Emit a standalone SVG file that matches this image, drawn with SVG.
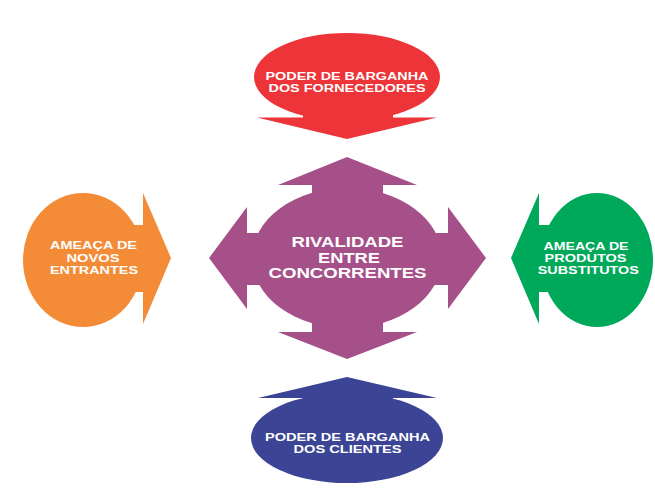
<svg xmlns="http://www.w3.org/2000/svg" width="655" height="489" viewBox="0 0 655 489">
<style>
text{font-family:"Liberation Sans",Arial,sans-serif;font-weight:bold;fill:#fff;text-anchor:middle}
.red{fill:#EC3439}
.pur{fill:#A65089}
.org{fill:#F48B37}
.grn{fill:#00A859}
.blu{fill:#3C4496}
</style>
<rect width="655" height="489" fill="#fff"/>
<g id="connectors"/>
<g id="fornecedores" class="red">
<ellipse cx="347" cy="77" rx="93" ry="44"/>
<rect x="303" y="100" width="90" height="19"/>
<polygon points="257,117.5 437,117.5 347,139"/>
<text font-size="11.4" x="347" y="80" textLength="163" lengthAdjust="spacingAndGlyphs">PODER DE BARGANHA</text>
<text font-size="11.4" x="347" y="92.3" textLength="157" lengthAdjust="spacingAndGlyphs">DOS FORNECEDORES</text>
</g>
<g id="rivalidade" class="pur">
<ellipse cx="347" cy="258" rx="95" ry="70"/>
<rect x="312" y="184" width="71" height="20"/>
<polygon points="278,185 347,157 417,185"/>
<rect x="312" y="312" width="71" height="21"/>
<polygon points="278,332 347,359 417,332"/>
<rect x="246" y="233" width="20" height="52"/>
<polygon points="247,207 209,258 247,309"/>
<rect x="429" y="233" width="20" height="52"/>
<polygon points="448,207 486,258 448,309"/>
<text font-size="14" x="347.5" y="247" textLength="112" lengthAdjust="spacingAndGlyphs">RIVALIDADE</text>
<text font-size="14" x="349" y="263" textLength="62" lengthAdjust="spacingAndGlyphs">ENTRE</text>
<text font-size="14" x="347.5" y="278" textLength="158" lengthAdjust="spacingAndGlyphs">CONCORRENTES</text>
</g>
<g id="novos-entrantes" class="org">
<ellipse cx="83" cy="260" rx="60" ry="67"/>
<rect x="125" y="225" width="19" height="67"/>
<polygon points="143,193 171,258 143,324"/>
<text font-size="11.5" x="93.5" y="249" textLength="87" lengthAdjust="spacingAndGlyphs">AMEAÇA DE</text>
<text font-size="11.5" x="93" y="262" textLength="53" lengthAdjust="spacingAndGlyphs">NOVOS</text>
<text font-size="11.5" x="94" y="274" textLength="88" lengthAdjust="spacingAndGlyphs">ENTRANTES</text>
</g>
<g id="substitutos" class="grn">
<ellipse cx="597" cy="260" rx="56" ry="67"/>
<rect x="538" y="225" width="20" height="67"/>
<polygon points="539,193 511,258 539,324"/>
<text font-size="11.5" x="586" y="250" textLength="85" lengthAdjust="spacingAndGlyphs">AMEAÇA DE</text>
<text font-size="11.5" x="585.5" y="262" textLength="82" lengthAdjust="spacingAndGlyphs">PRODUTOS</text>
<text font-size="11.5" x="588.3" y="274" textLength="101" lengthAdjust="spacingAndGlyphs">SUBSTITUTOS</text>
</g>
<g id="clientes" class="blu">
<ellipse cx="347" cy="438" rx="96" ry="45"/>
<rect x="303" y="397" width="90" height="12"/>
<polygon points="258,398 347,377 437,398"/>
<text font-size="11.5" x="347.5" y="441" textLength="165" lengthAdjust="spacingAndGlyphs">PODER DE BARGANHA</text>
<text font-size="11.5" x="347.5" y="453" textLength="108" lengthAdjust="spacingAndGlyphs">DOS CLIENTES</text>
</g>
</svg>
